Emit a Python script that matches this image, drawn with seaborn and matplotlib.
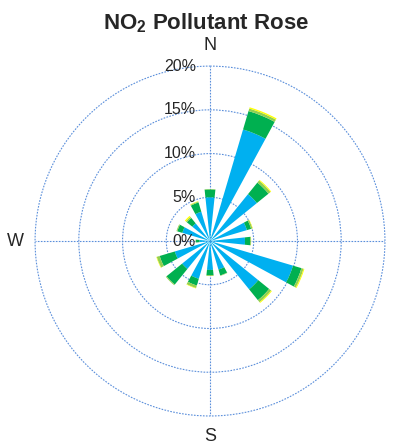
import numpy as np
import pandas as pd
import matplotlib
matplotlib.use('Agg')
import matplotlib.pyplot as plt
import seaborn as sns

# Wind directions (16 sectors) and stacked frequency (%) per concentration band
directions = ['N', 'NNE', 'NE', 'ENE', 'E', 'ESE', 'SE', 'SSE',
              'S', 'SSW', 'SW', 'WSW', 'W', 'WNW', 'NW', 'NNW']
band_low = [5.0, 13.3, 6.9, 4.4, 4.0, 9.9, 7.1, 3.4, 3.3, 4.5, 4.1, 4.2, 1.2, 3.3, 2.6, 3.5]
band_mid = [0.9, 2.2, 1.7, 0.5, 0.6, 1.0, 1.6, 0.7, 0.6, 0.8, 2.3, 1.8, 0.4, 0.6, 0.8, 1.1]
band_high = [0.05, 0.3, 0.3, 0.15, 0.1, 0.25, 0.3, 0.05, 0.1, 0.3, 0.1, 0.35, 0.05, 0.1, 0.15, 0.1]
band_top = [0.0, 0.15, 0.1, 0.05, 0.0, 0.1, 0.1, 0.0, 0.0, 0.05, 0.0, 0.05, 0.0, 0.0, 0.15, 0.05]

r_ticks = [0, 5, 10, 15, 20]
compass = ['N', 'E', 'S', 'W']

df = pd.DataFrame({'dir': directions, 'low': band_low, 'mid': band_mid,
                   'high': band_high, 'top': band_top})
df['theta'] = np.deg2rad(np.arange(len(df)) * 360 / len(df))

sns.set_style('white')
plt.rcParams['font.family'] = ['Liberation Sans', 'DejaVu Sans']
plt.rcParams['mathtext.fontset'] = 'custom'
plt.rcParams['mathtext.rm'] = 'Liberation Sans'
plt.rcParams['mathtext.bf'] = 'Liberation Sans:bold'

colors = ['#00B0F0', '#00B050', '#92D050', '#FFFF00']
grid_col = '#5B8FDB'

fig = plt.figure(figsize=(4.01, 4.44), dpi=100)
ax = fig.add_axes([0.0873, 0.0631, 0.8728, 0.788], projection='polar')
ax.set_theta_zero_location('N')
ax.set_theta_direction(-1)

width = np.deg2rad(12)
bottom = np.zeros(len(df))
for col, c in zip(['low', 'mid', 'high', 'top'], colors):
    ax.bar(df['theta'], df[col], width=width, bottom=bottom, color=c,
           edgecolor='none', linewidth=0, zorder=3)
    bottom = bottom + df[col].values

ax.set_ylim(0, 20)
ax.set_yticks(r_ticks[1:])
ax.set_yticklabels([])
ax.set_xticks(np.deg2rad([0, 90, 180, 270]))
ax.set_xticklabels(compass, fontsize=13)
ax.tick_params(axis='x', pad=4)
ax.grid(True, color=grid_col, linestyle=(0, (1.5, 1.2)), linewidth=0.8)
for gl in ax.yaxis.get_gridlines():
    gl.set_clip_on(False)
ax.spines['polar'].set_visible(False)

for r in r_ticks:
    ax.annotate(f'{r}%', xy=(0, r), xytext=(-10, 0), textcoords='offset points',
                ha='right', va='center', fontsize=11.5, zorder=5)

fig.text(0.515, 0.948, r'$\mathbf{NO_2}$ Pollutant Rose', ha='center', va='center',
         fontsize=16, fontweight='bold')

fig.savefig('out.png', dpi=100)
